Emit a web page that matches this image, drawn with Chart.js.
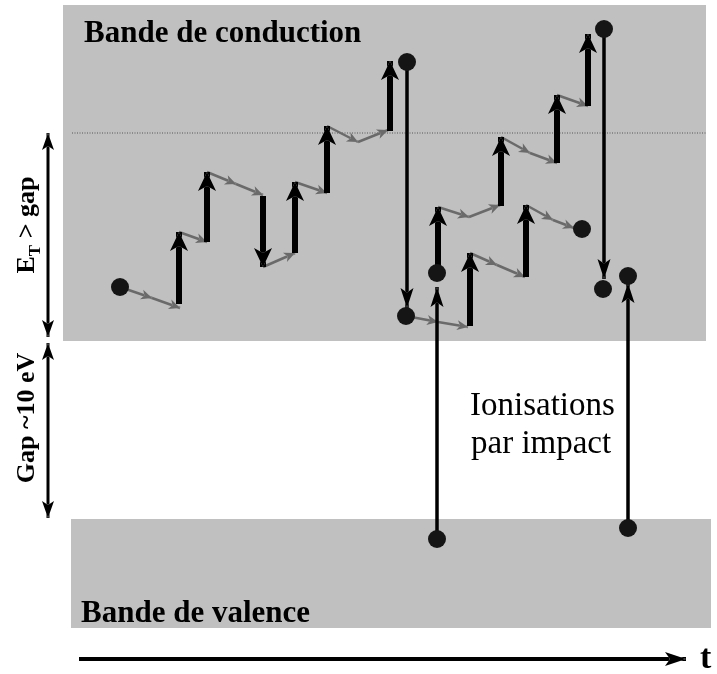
<!DOCTYPE html>
<html>
<head>
<meta charset="utf-8">
<script src="https://cdn.jsdelivr.net/npm/chart.js@4"></script>
<style>
  html, body { margin: 0; padding: 0; background: #fff; }
  #wrap { width: 717px; height: 674px; position: relative; }
</style>
</head>
<body>
<div id="wrap"><canvas id="bands"></canvas></div>
<script>
// DATA (t across, energy down the page, same units as the picture)
const conductionBand = [63, 706, 5, 341];   // t0, t1, E top, E bottom
const valenceBand = [71, 711, 519, 628];
const thresholdLine = [72, 706, 133];       // t0, t1, E
const electrons = [[120,287],[407,62],[406,316],[437,273],[582,229],[604,29],[603,289],[628,276],[437,539],[628,528]];
// acceleration steps in the field: t, E start, E end
const fieldSteps = [[179,304,232],[207,242,172],[263,196,267],[295,253,182],[327,193,126],[390,131,61],
                    [470,326,253],[526,277,205],[438,273,207],[501,206,137],[557,163,95],[588,106,34]];
// phonon collisions: t0, E0, t1, E1
const collisions = [[120,287,152,298],[152,298,180,308],[179,232,207,242],[207,172,236,184],[236,184,263,195],
                    [263,267,295,253],[295,182,327,193],[327,126,358,142],[358,142,388,130],
                    [406,316,438,322],[438,322,468,327],[470,253,497,265],[497,265,525,277],
                    [526,205,553,220],[553,220,574,228],[438,207,469,217],[469,217,500,205],
                    [501,137,530,153],[530,153,557,163],[557,95,588,106]];
// relaxation / impact ionisation jumps: t, E start, E end
const transitions = [[407,62,308],[604,29,279],[437,539,287],[628,528,283]];
// side scale arrows: t, E start, E end
const energyArrows = [[48,235,133],[48,235,337],[48,430,343],[48,430,518]];
const timeArrow = [79, 686, 659];

const ctxEl = document.getElementById('bands');

// Arrow styles
const THICK = { color: '#000', width: 6, head: { len: 19, half: 9, notch: 5 } };
const THIN = { color: '#000', width: 3.5, head: { len: 20, half: 6.5, notch: 4.5 } };
const GREY = { color: '#6a6a6a', width: 2.5, head: { len: 11, half: 5, notch: 3 } };
const SIDE = { color: '#000', width: 3, head: { len: 17, half: 6, notch: 4 } };
const TIME = { color: '#000', width: 4, head: { len: 21, half: 7, notch: 5 } };

function arrowSet(p0, p1, st) {
  return {
    data: [p0, p1], showLine: true, borderColor: st.color, backgroundColor: st.color,
    borderWidth: st.width, pointRadius: 0, borderCapStyle: 'butt', head: st.head
  };
}

const datasets = [];
// dots on top
datasets.push({
  data: electrons.map(e => ({ x: e[0], y: e[1] })),
  pointRadius: 9, pointBackgroundColor: '#151515', pointBorderWidth: 0, showLine: false
});
transitions.forEach(a => datasets.push(arrowSet({ x: a[0], y: a[1] }, { x: a[0], y: a[2] }, THIN)));
fieldSteps.forEach(a => datasets.push(arrowSet({ x: a[0], y: a[1] }, { x: a[0], y: a[2] }, THICK)));
collisions.forEach(a => datasets.push(arrowSet({ x: a[0], y: a[1] }, { x: a[2], y: a[3] }, GREY)));
energyArrows.forEach(a => datasets.push(arrowSet({ x: a[0], y: a[1] }, { x: a[0], y: a[2] }, SIDE)));
datasets.push(arrowSet({ x: timeArrow[0], y: timeArrow[2] }, { x: timeArrow[1], y: timeArrow[2] }, TIME));
datasets.push({
  data: [{ x: thresholdLine[0], y: thresholdLine[2] }, { x: thresholdLine[1], y: thresholdLine[2] }],
  showLine: true, borderColor: '#555', borderWidth: 1, borderDash: [1, 1.5], pointRadius: 0
});

function headPoly(a, b, h) {
  const dx = b.x - a.x, dy = b.y - a.y, L = Math.hypot(dx, dy) || 1;
  const ux = dx / L, uy = dy / L, nx = -uy, ny = ux;
  const bx = b.x - ux * h.len, by = b.y - uy * h.len;
  return [
    [b.x, b.y],
    [bx + nx * h.half, by + ny * h.half],
    [b.x - ux * (h.len - h.notch), b.y - uy * (h.len - h.notch)],
    [bx - nx * h.half, by - ny * h.half]
  ];
}
function trace(ctx, poly) {
  ctx.moveTo(poly[0][0], poly[0][1]);
  for (let i = 1; i < poly.length; i++) ctx.lineTo(poly[i][0], poly[i][1]);
  ctx.closePath();
}

const arrowHeads = {
  id: 'arrowHeads',
  beforeDatasetsDraw(chart) {
    const { ctx, scales: { x, y } } = chart;
    ctx.save();
    ctx.fillStyle = '#c0c0c0';
    [conductionBand, valenceBand].forEach(b => {
      const x0 = x.getPixelForValue(b[0]), x1 = x.getPixelForValue(b[1]);
      const y0 = y.getPixelForValue(b[2]), y1 = y.getPixelForValue(b[3]);
      ctx.fillRect(x0, y0, x1 - x0, y1 - y0);
    });
    ctx.fillStyle = '#000';
    ctx.textBaseline = 'alphabetic';
    ctx.textAlign = 'left';
    ctx.font = 'bold 31px "Liberation Serif"';
    ctx.fillText('Bande de conduction', x.getPixelForValue(84), y.getPixelForValue(42));
    ctx.fillText('Bande de valence', x.getPixelForValue(81), y.getPixelForValue(622));
    ctx.restore();
  },
  beforeDatasetDraw(chart, args) {
    const ds = chart.data.datasets[args.index];
    if (!ds.head) return;
    const pts = args.meta.data;
    const poly = headPoly(pts[0], pts[1], ds.head);
    const ctx = chart.ctx;
    ctx.save();
    ctx.beginPath();
    ctx.rect(0, 0, chart.width, chart.height);
    trace(ctx, poly);
    ctx.clip('evenodd');
  },
  afterDatasetDraw(chart, args) {
    const ds = chart.data.datasets[args.index];
    if (!ds.head) return;
    const ctx = chart.ctx;
    ctx.restore();
    const pts = args.meta.data;
    ctx.save();
    ctx.fillStyle = ds.borderColor;
    ctx.beginPath();
    trace(ctx, headPoly(pts[0], pts[1], ds.head));
    ctx.fill();
    ctx.restore();
  },
  afterDatasetsDraw(chart) {
    const { ctx, scales: { x, y } } = chart;
    ctx.save();
    ctx.fillStyle = '#000';
    ctx.textAlign = 'left';
    ctx.font = '33px "Liberation Serif"';
    ctx.fillText('Ionisations', x.getPixelForValue(470), y.getPixelForValue(415));
    ctx.fillText('par impact', x.getPixelForValue(471), y.getPixelForValue(453));
    ctx.font = 'bold 34px "Liberation Serif"';
    ctx.fillText('t', x.getPixelForValue(700), y.getPixelForValue(668));

    // rotated side labels
    const big = 'bold 26px "Liberation Serif"', small = 'bold 17px "Liberation Serif"';
    ctx.save();
    ctx.translate(x.getPixelForValue(34), y.getPixelForValue(225));
    ctx.rotate(-Math.PI / 2);
    ctx.font = big; const wE = ctx.measureText('E').width;
    ctx.font = small; const wT = ctx.measureText('T').width;
    ctx.font = big; const wR = ctx.measureText(' > gap').width;
    let cx = -(wE + wT + wR) / 2;
    ctx.fillText('E', cx, 0); cx += wE;
    ctx.font = small; ctx.fillText('T', cx, 6); cx += wT;
    ctx.font = big; ctx.fillText(' > gap', cx, 0);
    ctx.restore();

    ctx.save();
    ctx.translate(x.getPixelForValue(34), y.getPixelForValue(418));
    ctx.rotate(-Math.PI / 2);
    ctx.font = big;
    ctx.textAlign = 'center';
    ctx.fillText('Gap ~10 eV', 0, 0);
    ctx.restore();
    ctx.restore();
  }
};

new Chart(ctxEl, {
  type: 'scatter',
  data: { datasets },
  options: {
    responsive: true,
    maintainAspectRatio: false,
    animation: false,
    events: [],
    layout: { padding: 0, autoPadding: false },
    scales: {
      x: { type: 'linear', min: 0, max: 717, display: false },
      y: { type: 'linear', min: 0, max: 674, reverse: true, display: false }
    },
    plugins: { legend: { display: false }, tooltip: { enabled: false } }
  },
  plugins: [arrowHeads]
});
</script>
</body>
</html>
